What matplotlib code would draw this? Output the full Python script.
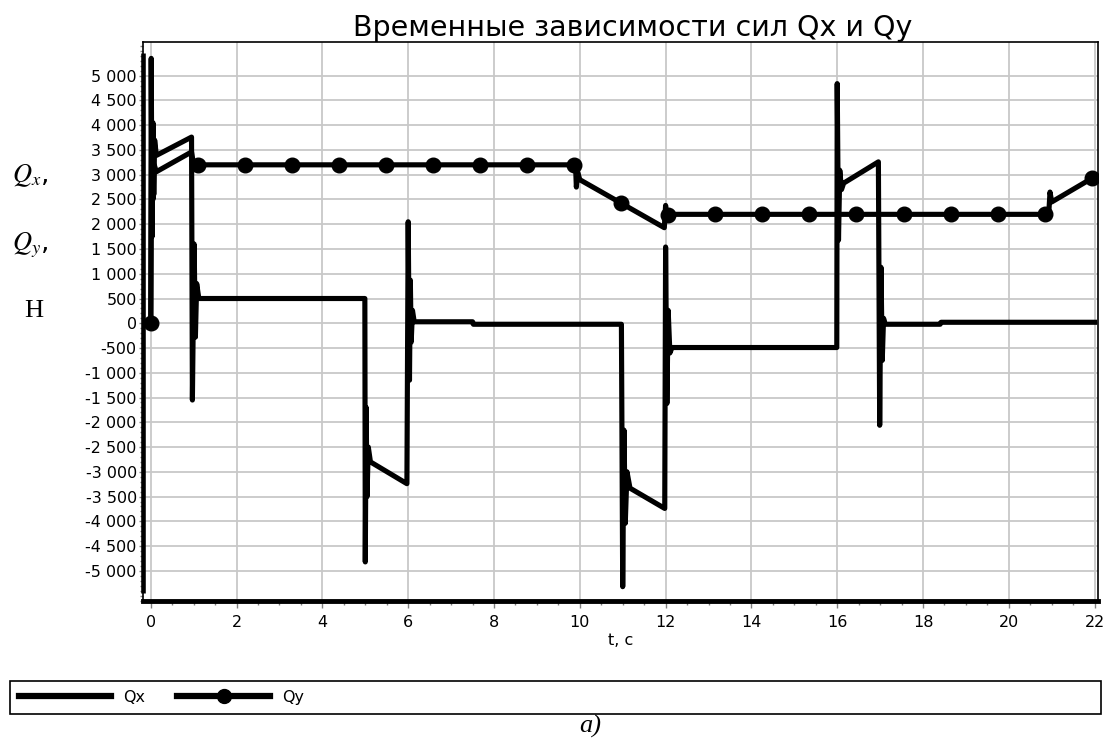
import numpy as np
import matplotlib
matplotlib.use("Agg")
import matplotlib.pyplot as plt
from matplotlib.lines import Line2D
from matplotlib.patches import Rectangle
from matplotlib.ticker import MultipleLocator, FuncFormatter

plt.rcParams['font.family'] = ['DejaVu Sans']
plt.rcParams['mathtext.fontset'] = 'stix'

# Qx(t), Н
qx_t = [0.0, 0.01, 0.03, 0.05, 0.07, 0.09, 0.13, 0.95, 0.97, 1.01, 1.04, 1.07, 1.12,
        4.99, 5.0, 5.02, 5.04, 5.07, 5.12, 5.97, 6.0, 6.03, 6.05, 6.07, 6.1, 6.14,
        7.5, 7.52, 10.97, 11.0, 11.03, 11.06, 11.1, 11.17, 11.98, 12.0, 12.03, 12.06,
        12.1, 12.15, 15.99, 16.0, 16.03, 16.06, 16.1, 16.15, 16.96, 16.99, 17.02,
        17.05, 17.08, 17.12, 18.4, 18.42, 22.0]
qx_v = [0, 5350, 1750, 4050, 2600, 3700, 3390, 3760, -1550, 1600, -280, 800, 500,
        500, -4820, -1700, -3500, -2500, -2800, -3240, 2050, -1150, 870, -380, 260, 30,
        30, -20, -20, -5320, -2160, -4040, -3000, -3330, -3740, 1540, -1620, 260,
        -600, -490, -490, 4840, 1680, 3090, 2700, 2830, 3260, -2060, 1130,
        -750, 100, -20, -20, 20, 20]

# Qy(t), Н
qy_t = [0.0, 0.02, 0.05, 0.08, 0.13, 0.95, 1.0, 9.9, 9.92, 9.95, 10.0, 11.97,
        12.0, 12.03, 12.07, 20.93, 20.96, 21.0, 22.0]
qy_v = [0, 3600, 2500, 3200, 3060, 3460, 3200, 3200, 2750, 3050, 2900, 1930,
        2380, 2150, 2200, 2200, 2650, 2450, 2960]

# marker times of the Qy curve
qy_mark_t = np.arange(21) * 1.0966

fig = plt.figure(figsize=(11.15, 7.4), dpi=100)
ax = fig.add_axes([0.1283, 0.1878, 0.8565, 0.7554])

lw = 3.7
ax.plot(qx_t, qx_v, color='black', lw=lw)
ax.plot(qy_t, qy_v, color='black', lw=lw)
ax.plot(qy_mark_t, np.interp(qy_mark_t, qy_t, qy_v), ls='none', marker='o',
        ms=10.5, color='black')

ax.xaxis.set_major_locator(MultipleLocator(2))
ax.xaxis.set_minor_locator(MultipleLocator(0.5))
ax.yaxis.set_minor_locator(MultipleLocator(100))
ax.set_yticks(np.arange(-5000, 5001, 500))
ax.yaxis.set_major_formatter(FuncFormatter(lambda v, p: f"{v:,.0f}".replace(',', ' ')))

ax.grid(True, which='major', color='#c8c8c8', lw=1.3)
ax.set_axisbelow(True)

ax.tick_params(axis='both', which='both', direction='out', color='#808080', labelsize=11.5)
ax.tick_params(axis='y', which='major', length=3, width=1, pad=1.5)
ax.tick_params(axis='y', which='minor', length=2.5, width=1)
ax.tick_params(axis='x', which='major', length=5, width=1, pad=5)
ax.tick_params(axis='x', which='minor', length=3, width=1)

for s in ['top', 'right', 'left']:
    ax.spines[s].set_linewidth(1.2)
ax.spines['bottom'].set_linewidth(3.5)
# thick part of the left axis
ax.plot([-0.19, -0.19], [-5450, 5450], color='black', lw=3.3, clip_on=False,
        solid_capstyle='butt')
ax.set_xlim(-0.18, 22.08)
ax.set_ylim(-5610, 5680)

ax.set_title("Временные зависимости сил Qx и Qy", fontsize=20.5, x=0.513, pad=3)
ax.set_xlabel("t, c", fontsize=11.5, labelpad=2)

fig.text(0.027, 0.763, r"$Q_x$,", fontsize=19, ha='center', va='center')
fig.text(0.027, 0.668, r"$Q_y$,", fontsize=19, ha='center', va='center')
fig.text(0.030, 0.580, "Н", fontsize=19, ha='center', va='center', family='Liberation Serif')
fig.text(0.529, 0.018, "a)", fontsize=19, ha='center', va='center',
         family='Liberation Serif', style='italic')

# legend box
fig.add_artist(Rectangle((10 / 1115, 1 - 714 / 740), 1091 / 1115, 33 / 740,
                         transform=fig.transFigure, fill=False, lw=1.2, ec='black'))
handles = [Line2D([], [], color='black', lw=4.5),
           Line2D([], [], color='black', lw=4.5, marker='o', ms=10)]
fig.legend(handles, ['Qx', 'Qy'], loc='center left', ncol=2, frameon=False,
           bbox_to_anchor=(0.004, 1 - 697.5 / 740), fontsize=11.5,
           handlelength=5.8, handletextpad=0.75, columnspacing=2.0)

fig.savefig("out.png", dpi=100)
